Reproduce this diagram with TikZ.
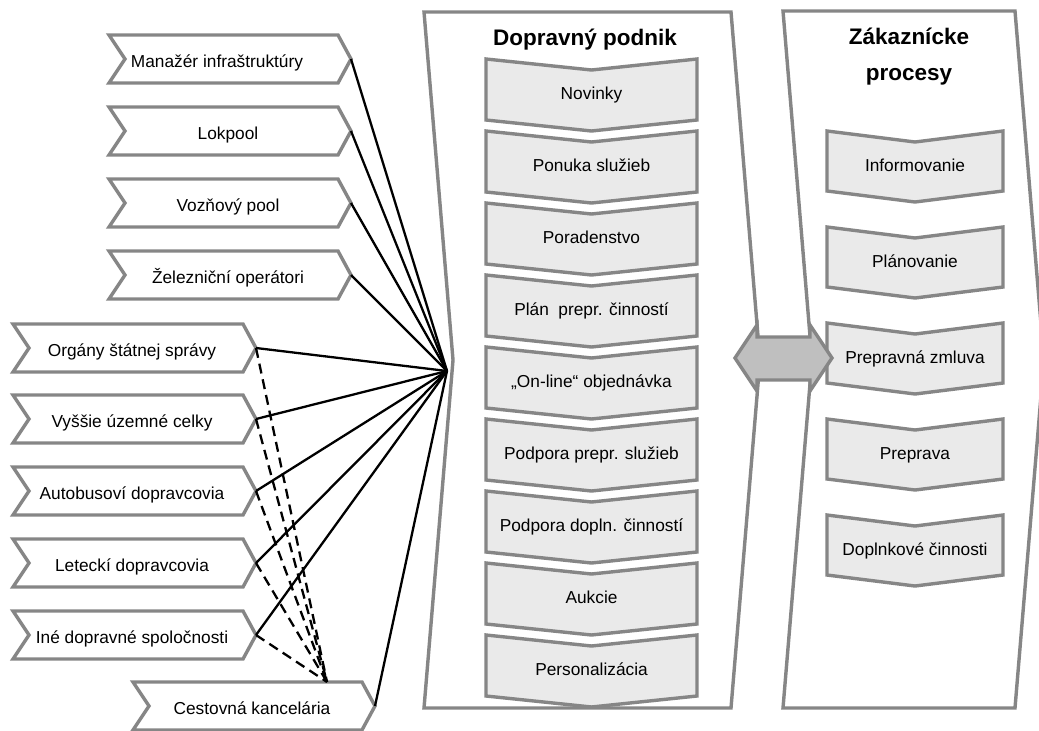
\documentclass[tikz,border=0pt]{standalone}
\usepackage{fontspec}
\setmainfont{Liberation Sans}
\definecolor{edgegray}{RGB}{134,134,134}
\definecolor{itemfill}{RGB}{234,234,234}
\definecolor{arrowfill}{RGB}{191,191,191}
\tikzset{
  panel/.style={draw=edgegray, line width=3.4pt, line join=miter, fill=white},
  chevbox/.style={draw=edgegray, line width=3.4pt, line join=miter, fill=white},
  itembox/.style={draw=edgegray, line width=3.4pt, line join=miter, fill=itemfill},
  dblarrow/.style={draw=edgegray, line width=3.4pt, line join=miter, fill=arrowfill},
  lbl/.style={font=\fontsize{17.3}{20}\selectfont, inner sep=0pt},
  ttl/.style={font=\fontsize{22.5}{36}\selectfont\bfseries, align=center, inner sep=0pt},
  link/.style={line width=2.3pt, black},
  dlink/.style={line width=2.3pt, black, dash pattern=on 10pt off 6pt},
}
% left chevron: name, left x, right flat x, centre y, text x, text
\newcommand\lchev[6]{%
  \draw[chevbox] (#2,#4-24) -- (#3,#4-24) -- (#3+13,#4) -- (#3,#4+24) -- (#2,#4+24) -- (#2+16,#4) -- cycle;
  \coordinate (#1-tip) at (#3+13,#4);
  \node[lbl, anchor=base] (#1) at (#5,#4+8.2) {#6};
}
% downward chevron: name, left x, right x, top y, side height, text
\newcommand\dchev[6]{%
  \draw[itembox] (#2,#4) -- ({(#2+#3)/2},#4+11) -- (#3,#4) -- (#3,#4+#5) -- ({(#2+#3)/2},#4+#5+11) -- (#2,#4+#5) -- cycle;
  \node[lbl, anchor=base] (#1) at ({(#2+#3)/2},#4+40.7) {#6};
}
\begin{document}
\begin{tikzpicture}[x=1pt,y=-1pt]
\useasboundingbox (0,0) rectangle (1039,731);
\clip (0,0) rectangle (1039,731);

% panels
\draw[panel] (424,12) -- (731,12) -- (760,360) -- (731,708) -- (424,708) -- (453,360) -- cycle;
\draw[panel] (783,11) -- (1015,11) -- (1044,360) -- (1015,708) -- (783,708) -- (812,360) -- cycle;

\node[ttl, anchor=base] (dp) at (585,45) {Dopravný podnik};
\node[ttl] (zp) at (909,57) {Zákaznícke\\procesy};

% centre items
\dchev{n1}{486}{697}{59}{61}{Novinky}
\dchev{n2}{486}{697}{131}{61}{Ponuka služieb}
\dchev{n3}{486}{697}{203}{61}{Poradenstvo}
\dchev{n4}{486}{697}{275}{61}{Plán\ \ prepr. činností}
\dchev{n5}{486}{697}{347}{61}{„On-line“ objednávka}
\dchev{n6}{486}{697}{419}{61}{Podpora prepr. služieb}
\dchev{n7}{486}{697}{491}{61}{Podpora dopln. činností}
\dchev{n8}{486}{697}{563}{61}{Aukcie}
\dchev{n9}{486}{697}{635}{61}{Personalizácia}

% right items
\dchev{r1}{827}{1003}{131}{60}{Informovanie}
\dchev{r2}{827}{1003}{227}{60}{Plánovanie}
\dchev{r3}{827}{1003}{323}{60}{Prepravná zmluva}
\dchev{r4}{827}{1003}{419}{60}{Preprava}
\dchev{r5}{827}{1003}{515}{60}{Doplnkové činnosti}

% double arrow
\draw[dblarrow] (735,358) -- (757,325) -- (757,337) -- (810,337) -- (810,325) -- (832,358)
  -- (810,391) -- (810,380) -- (757,380) -- (757,391) -- cycle;

% left chevrons
\lchev{man}{109}{338}{59}{217}{Manažér infraštruktúry}
\lchev{lok}{109}{338}{131}{228}{Lokpool}
\lchev{voz}{109}{338}{203}{228}{Vozňový pool}
\lchev{zel}{109}{338}{275}{228}{Železniční operátori}
\lchev{org}{13}{243}{348}{132}{Orgány štátnej správy}
\lchev{vys}{13}{243}{419}{132}{Vyššie územné celky}
\lchev{aut}{13}{243}{491}{132}{Autobusoví dopravcovia}
\lchev{let}{13}{243}{563}{132}{Leteckí dopravcovia}
\lchev{ine}{13}{243}{635}{132}{Iné dopravné spoločnosti}
\lchev{ck}{133}{362}{706}{252}{Cestovná kancelária}

\coordinate (hub) at (447,371);
\coordinate (ck-top) at (327,682);

% connectors
\foreach \s in {man,lok,voz,zel,org,vys,aut,let,ine,ck}
  \draw[link] (\s-tip) -- (hub);
\foreach \s in {org,vys,aut,let,ine}
  \draw[dlink] (\s-tip) -- (ck-top);
\end{tikzpicture}
\end{document}
